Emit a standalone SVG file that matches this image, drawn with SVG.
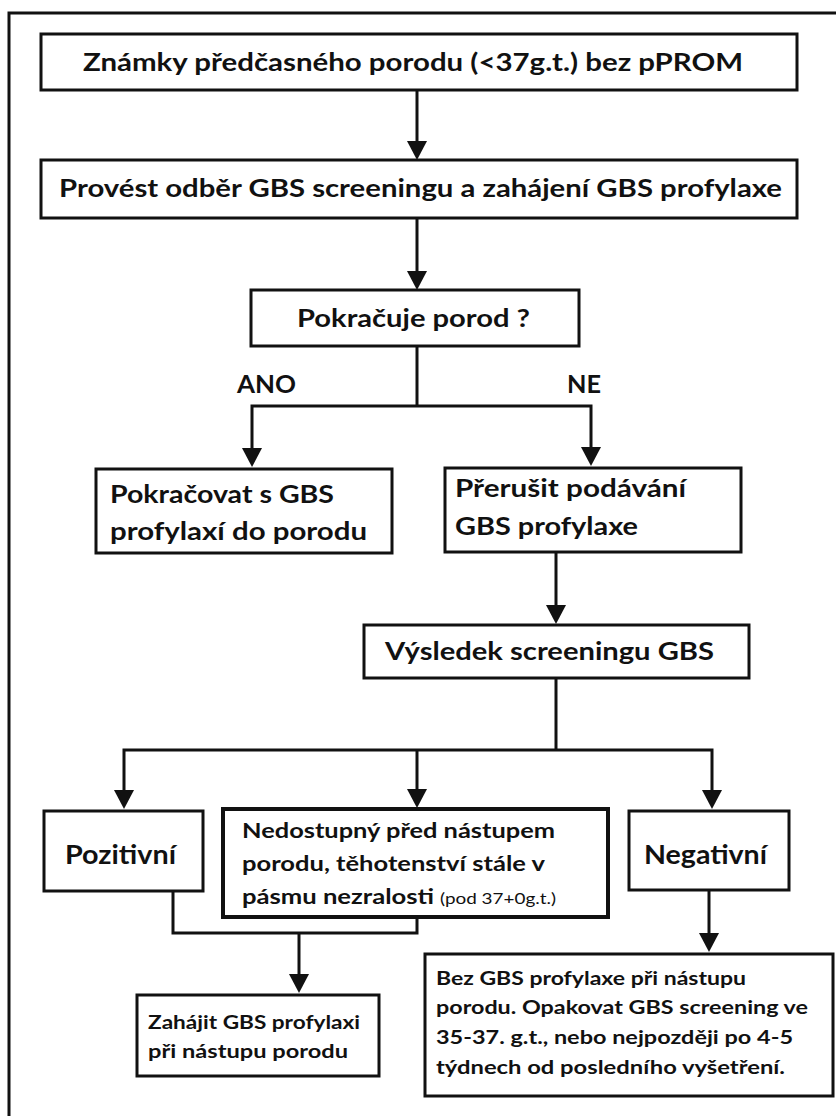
<svg xmlns="http://www.w3.org/2000/svg" width="836" height="1116" viewBox="0 0 836 1116">
<style>
.box{fill:#fff;stroke:#111;stroke-width:3}
.thick{stroke-width:4}
.conn{fill:none;stroke:#111;stroke-width:3}
text{font-family:Lato,"Liberation Sans",sans-serif;font-weight:bold;fill:#111}
.t25{font-size:25px}
.t26{font-size:26px}
.t21{font-size:21px}
.t18{font-size:18.5px}
.small{font-size:16px;font-weight:normal}
</style>
<defs>
<marker id="arr" markerUnits="userSpaceOnUse" markerWidth="20" markerHeight="20" refX="11" refY="10" orient="auto">
<path d="M0,0 L19,10 L0,20 z" fill="#111"/>
</marker>
</defs>
<rect x="0" y="0" width="836" height="1116" fill="#fff"/>
<rect id="frame" x="9" y="13" width="850" height="1130" fill="none" stroke="#111" stroke-width="3"/>

<g id="connectors">
<path class="conn" d="M417,90 V152" marker-end="url(#arr)"/>
<path class="conn" d="M417,218 V282" marker-end="url(#arr)"/>
<path class="conn" d="M417,346 V406"/>
<path class="conn" d="M417,406 H252 V459" marker-end="url(#arr)"/>
<path class="conn" d="M417,406 H591 V458" marker-end="url(#arr)"/>
<path class="conn" d="M556,552 V616" marker-end="url(#arr)"/>
<path class="conn" d="M556,678 V750"/>
<path class="conn" d="M556,750 H124 V801" marker-end="url(#arr)"/>
<path class="conn" d="M417,750 V800" marker-end="url(#arr)"/>
<path class="conn" d="M556,750 H712 V801" marker-end="url(#arr)"/>
<path class="conn" d="M173,891 V933 H417 V917"/>
<path class="conn" d="M299,933 V985" marker-end="url(#arr)"/>
<path class="conn" d="M709,890 V944" marker-end="url(#arr)"/>
<text class="t25" x="237" y="393" textLength="59" lengthAdjust="spacingAndGlyphs">ANO</text>
<text class="t25" x="567" y="393" textLength="34" lengthAdjust="spacingAndGlyphs">NE</text>
</g>

<g id="n1">
<rect class="box" x="41" y="34" width="756" height="56"/>
<text class="t25" x="83" y="71" textLength="660" lengthAdjust="spacingAndGlyphs">Známky předčasného porodu (&lt;37g.t.) bez pPROM</text>
</g>
<g id="n2">
<rect class="box" x="41" y="160" width="756" height="58"/>
<text class="t25" x="59" y="197" textLength="723" lengthAdjust="spacingAndGlyphs">Provést odběr GBS screeningu a zahájení GBS profylaxe</text>
</g>
<g id="n3">
<rect class="box" x="251" y="290" width="328" height="56"/>
<text class="t25" x="297" y="327" textLength="233" lengthAdjust="spacingAndGlyphs">Pokračuje porod ?</text>
</g>
<g id="n4">
<rect class="box" x="96" y="469" width="296" height="84"/>
<text class="t25" x="110" y="503" textLength="224" lengthAdjust="spacingAndGlyphs">Pokračovat s GBS</text>
<text class="t25" x="110" y="540" textLength="257" lengthAdjust="spacingAndGlyphs">profylaxí do porodu</text>
</g>
<g id="n5">
<rect class="box" x="445" y="468" width="296" height="84"/>
<text class="t25" x="455" y="497" textLength="231" lengthAdjust="spacingAndGlyphs">Přerušit podávání</text>
<text class="t25" x="455" y="535" textLength="183" lengthAdjust="spacingAndGlyphs">GBS profylaxe</text>
</g>
<g id="n6">
<rect class="box" x="364" y="625" width="385" height="53"/>
<text class="t25" x="385" y="660" textLength="329" lengthAdjust="spacingAndGlyphs">Výsledek screeningu GBS</text>
</g>
<g id="n7">
<rect class="box" x="44" y="811" width="159" height="80"/>
<text class="t26" x="65" y="864" textLength="111" lengthAdjust="spacingAndGlyphs">Pozitivní</text>
</g>
<g id="n8">
<rect class="box thick" x="223" y="809" width="385" height="108"/>
<text class="t21" x="242" y="838" textLength="313" lengthAdjust="spacingAndGlyphs">Nedostupný před nástupem</text>
<text class="t21" x="242" y="871" textLength="303" lengthAdjust="spacingAndGlyphs">porodu, těhotenství stále v</text>
<text class="t21" x="242" y="904" textLength="192" lengthAdjust="spacingAndGlyphs">pásmu nezralosti</text>
<text class="small" x="440" y="904" textLength="116" lengthAdjust="spacingAndGlyphs">(pod 37+0g.t.)</text>
</g>
<g id="n9">
<rect class="box" x="629" y="811" width="160" height="79"/>
<text class="t26" x="644" y="864" textLength="123" lengthAdjust="spacingAndGlyphs">Negativní</text>
</g>
<g id="n10">
<rect class="box" x="137" y="995" width="242" height="81"/>
<text class="t18" x="148" y="1029" textLength="212" lengthAdjust="spacingAndGlyphs">Zahájit GBS profylaxi</text>
<text class="t18" x="148" y="1058" textLength="200" lengthAdjust="spacingAndGlyphs">při nástupu porodu</text>
</g>
<g id="n11">
<rect class="box" x="425" y="954" width="408" height="142"/>
<text class="t18" x="436" y="985" textLength="310" lengthAdjust="spacingAndGlyphs">Bez GBS profylaxe při nástupu</text>
<text class="t18" x="436" y="1014" textLength="372" lengthAdjust="spacingAndGlyphs">porodu. Opakovat GBS screening ve</text>
<text class="t18" x="436" y="1044" textLength="357" lengthAdjust="spacingAndGlyphs">35-37. g.t., nebo nejpozději po 4-5</text>
<text class="t18" x="436" y="1074" textLength="349" lengthAdjust="spacingAndGlyphs">týdnech od posledního vyšetření.</text>
</g>
</svg>
